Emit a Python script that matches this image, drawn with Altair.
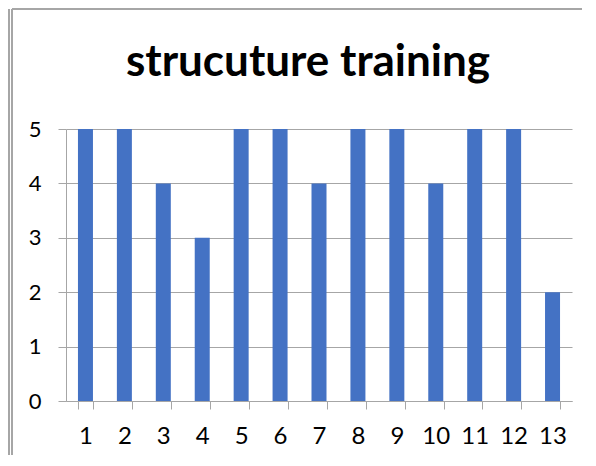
import altair as alt
import pandas as pd

title_text = "strucuture training"
categories = [str(i) for i in range(1, 14)]
values = [5, 5, 4, 3, 5, 5, 4, 5, 5, 4, 5, 5, 2]
y_ticks = [0, 1, 2, 3, 4, 5]

df = pd.DataFrame({"cat": categories, "val": values})
GRAY = "#A6A6A6"
FONT = "Lato"

bars = alt.Chart(df).mark_bar(color="#4472C4", size=15).encode(
    x=alt.X("cat:N", sort=categories, title=None,
            scale=alt.Scale(paddingInner=0.6, paddingOuter=0.3),
            axis=alt.Axis(labelAngle=0, labelFontSize=24, labelFont=FONT, labelColor="#000000",
                          domainColor=GRAY, tickColor=GRAY, tickSize=8, tickBand="extent",
                          labelPadding=15, grid=False)),
    y=alt.Y("val:Q", title=None, scale=alt.Scale(domain=[0, 5], nice=False),
            axis=alt.Axis(values=y_ticks, labelFontSize=22, labelFont=FONT, labelColor="#000000",
                          domainColor=GRAY, tickColor=GRAY, tickSize=8, gridColor=GRAY,
                          labelPadding=17, format="d")),
)

one = alt.Chart(pd.DataFrame({"t": [title_text]}))
title_mark = one.mark_text(font=FONT, fontSize=44, fontWeight="bold", color="#000000",
                           align="center", baseline="alphabetic").encode(
    text="t:N", x=alt.value(242), y=alt.value(-53))
top_line = one.mark_rule(color=GRAY, strokeWidth=2).encode(
    x=alt.value(-54), x2=alt.value(540), y=alt.value(-120))
left1 = one.mark_rule(color=GRAY, strokeWidth=2).encode(
    x=alt.value(-57), y=alt.value(-120), y2=alt.value(340))
left2 = one.mark_rule(color=GRAY, strokeWidth=2).encode(
    x=alt.value(-54), y=alt.value(-120), y2=alt.value(340))

chart = alt.layer(bars, title_mark, top_line, left1, left2).properties(
    width=506, height=272,
    autosize=alt.AutoSizeParams(type="none"),
    padding={"left": 58, "top": 121, "right": 10, "bottom": 54},
).configure_view(stroke=None)

chart.save("out.html", embed_options={"renderer": "svg", "actions": False})
